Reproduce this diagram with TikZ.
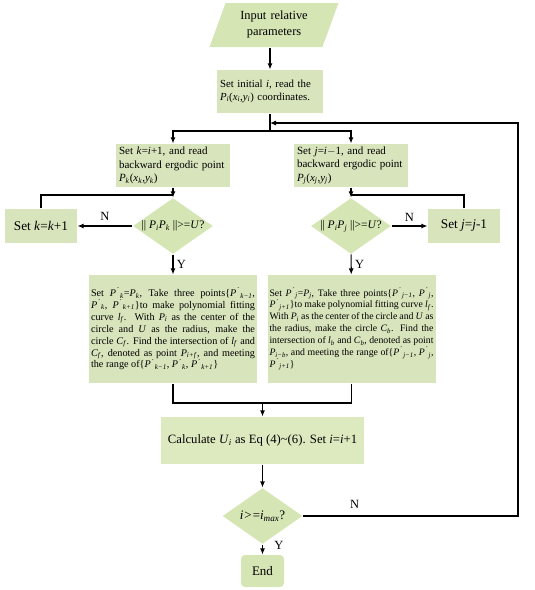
\documentclass[tikz,border=0pt]{standalone}
\usepackage{fontspec}
\setmainfont{Liberation Serif}
\usepackage{xcolor}
\definecolor{sage}{RGB}{216,228,188}
\definecolor{leaf}{RGB}{214,229,180}
\definecolor{pale}{RGB}{221,234,192}
\usetikzlibrary{shapes.geometric,arrows.meta,positioning}
\newcommand{\vs}[2]{\textit{#1}\textsubscript{\textit{#2}}}
\newcommand{\pp}[1]{\textit{P}\kern0.8pt\textsuperscript{´}\kern0.3pt\textsubscript{\textit{#1}}}
\newcommand{\nohyph}{\hyphenpenalty=10000\relax\exhyphenpenalty=10000\relax}

\tikzset{
  procbox/.style={rectangle, fill=sage, inner sep=2pt, align=left},
  bigbox/.style={rectangle, fill=sage, text width=164pt, minimum width=168pt,
    minimum height=108pt, inner sep=2pt, align=justify,
    font=\fontsize{10.2}{11.9}\selectfont\nohyph},
  decision/.style={diamond, fill=leaf, inner sep=0pt, minimum width=80pt,
    minimum height=56pt},
  dtext/.style={font=\fontsize{11.5}{14}\selectfont, inner sep=0pt},
  iobox/.style={trapezium, trapezium left angle=70, trapezium right angle=110,
    fill=leaf, inner xsep=5pt, inner ysep=5pt, minimum height=44pt, text width=72pt,
    align=center, font=\fontsize{12.4}{16}\selectfont},
  arrow/.style={-{Latex[length=6pt,width=5pt]}},
  flow/.style={line width=1.1pt},
  tag/.style={font=\fontsize{12.5}{14}\selectfont}
}

\begin{document}
\begin{tikzpicture}[x=1pt, y=-1pt, flow]
  \useasboundingbox (0,0) rectangle (535,590);

  % start and initial point
  \node[iobox] (input) at (274,25) {Input relative\\parameters};
  \node[procbox, minimum width=106pt, minimum height=43pt, text width=100pt,
    font=\fontsize{10.8}{12.5}\selectfont] (init) at (270,91.5)
    {Set initial \textit{i}, read the\\\vs{P}{i}(\vs{x}{i},\vs{y}{i}) coordinates.};

  % forward and backward search
  \node[procbox, minimum width=114pt, minimum height=43pt, text width=108pt,
    font=\fontsize{11}{13.5}\selectfont] (bk) at (173,165.5)
    {Set \textit{k}=\textit{i}+1, and read\\backward ergodic point\\\vs{P}{k}(\vs{x}{k},\vs{y}{k})};
  \node[procbox, minimum width=114pt, minimum height=43pt, text width=108pt,
    font=\fontsize{11}{13.5}\selectfont] (bj) at (351,165.5)
    {Set \textit{j}=\textit{i}$-$1, and read\\backward ergodic point\\\vs{P}{j}(\vs{x}{j},\vs{y}{j})};

  \node[decision, label={[dtext]center:{|| \vs{P}{i}\vs{P}{k} ||>=\textit{U}?}}] (dk) at (173,226) {};
  \node[decision, label={[dtext]center:{|| \vs{P}{i}\vs{P}{j} ||>=\textit{U}?}}] (dj) at (351,226) {};

  \node[procbox, minimum width=72pt, minimum height=34pt, align=center,
    font=\fontsize{13.3}{15}\selectfont] (kinc) at (41,226) {Set \textit{k}=\textit{k}+1};
  \node[procbox, minimum width=72pt, minimum height=34pt, align=center,
    font=\fontsize{13.3}{15}\selectfont] (jdec) at (464,226) {Set \textit{j}=\textit{j}-1};

  \node[bigbox] (fk) at (173,329)
    {Set \pp{k}=\vs{P}{k}, Take three points\{\pp{k−1},\linebreak \pp{k}, \pp{k+1}\}to make polynomial fitting\linebreak
     curve \vs{l}{f}. With \vs{P}{i} as the center of the\linebreak circle and \textit{U} as the radius, make the\linebreak
     circle \vs{C}{f}. Find the intersection of \vs{l}{f} and\linebreak \vs{C}{f}, denoted as point \vs{P}{i+f}, and meeting\linebreak
     the range of\{\pp{k−1}, \pp{k}, \pp{k+1}\}};
  \node[bigbox, font=\fontsize{9.8}{11.9}\selectfont\nohyph] (fj) at (351.5,329)
    {Set \pp{j}=\vs{P}{j}, Take three points\{\pp{j−1}, \pp{j},\linebreak \pp{j+1}\}to make polynomial fitting curve \vs{l}{f}.\linebreak
     With \vs{P}{i} as the center of the circle and \textit{U} as\linebreak the radius, make the circle \vs{C}{b}. Find the\linebreak
     intersection of \vs{l}{b} and \vs{C}{b}, denoted as point\linebreak \vs{P}{i−b}, and meeting the range of\{\pp{j−1}, \pp{j},\linebreak
     \pp{j+1}\}};

  % update and stop test
  \node[procbox, fill=pale, minimum width=203pt, minimum height=47pt, align=center,
    font=\fontsize{12.7}{15}\selectfont] (calc) at (262.5,440.5)
    {Calculate \vs{U}{i} as Eq (4)\textasciitilde(6). Set \textit{i}=\textit{i}+1};
  \node[decision, label={[dtext, font=\fontsize{13}{15}\selectfont]center:{\textit{i}\kern1pt>\kern1pt=\vs{i}{max}?}}] (dmax) at (262.5,516) {};
  \node[procbox, fill=leaf, rounded corners=4pt, minimum width=43pt, minimum height=32pt,
    align=center, font=\fontsize{13}{15}\selectfont] (finish) at (262.5,571) {End};

  \coordinate (fork) at (270,131);
  \coordinate (back) at (270,123);
  \coordinate (rim) at (518,123);
  \coordinate (kback) at (173,195);
  \coordinate (jback) at (351,195);
  \coordinate (join) at (262.5,403);

  \draw[arrow] (input.south -| init) -- (init);
  \draw (init) -- (fork);
  \draw[arrow] (fork) -| (bk);
  \draw[arrow] (fork) -| (bj);
  \draw[arrow] (bk) -- (dk);
  \draw[arrow] (bj) -- (dj);
  \draw[arrow] (dk) -- node[above, yshift=2pt, tag]{N} (kinc);
  \draw[arrow] (dj) -- node[above, yshift=1pt, tag]{N} (jdec);
  \draw (kinc) |- (kback);
  \draw (jdec) |- (jback);
  \draw[arrow] (dk) -- node[right, tag]{Y} (fk);
  \draw[arrow] (dj) -- node[right, tag]{Y} (fj);
  \draw (fk) |- (join);
  \draw (fj) |- (join);
  \draw[arrow] (join) -- (calc);
  \draw[arrow] (calc) -- (dmax);
  \draw[arrow] (dmax) -- node[right, pos=0.05, xshift=8pt, tag]{Y} (finish);
  \draw[arrow] (dmax) -| node[above, pos=0.12, yshift=4pt, tag]{N} (rim) -- (back);
\end{tikzpicture}
\end{document}
